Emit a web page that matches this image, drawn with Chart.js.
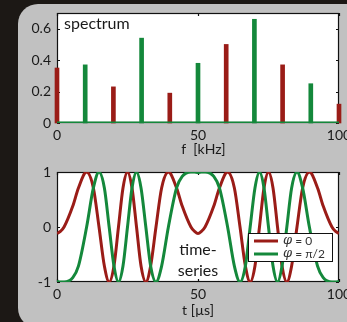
<!DOCTYPE html>
<html>
<head>
<meta charset="utf-8">
<script src="https://cdn.jsdelivr.net/npm/chart.js@4/dist/chart.umd.min.js"></script>
<style>
  html, body { margin: 0; padding: 0; }
  body { width: 347px; height: 322px; overflow: hidden; background: #1c1815; position: relative; }
  .panel { position: absolute; left: 18px; top: 4px; width: 360px; height: 324px; background: #c1c1c1; border-radius: 20px; }
  canvas { position: absolute; left: 0; }
  #spectrumChart { top: 0; }
  #timeChart { top: 160px; }
</style>
</head>
<body>
<div class="panel"></div>
<canvas id="spectrumChart" width="347" height="160"></canvas>
<canvas id="timeChart" width="347" height="162"></canvas>
<script>
// spectrum (kHz / amplitude)
const redFreq = [0, 20, 40, 60, 80, 100];
const redAmp = [0.35, 0.23, 0.19, 0.50, 0.37, 0.12];
const greenFreq = [10, 30, 50, 70, 90];
const greenAmp = [0.37, 0.54, 0.38, 0.66, 0.25];
const baseFreq = [0, 100];
const baseAmp = [0, 0];
const specXTicks = [0, 50, 100];
const specYTicks = [0, 0.2, 0.4, 0.6];
const specYLabels = ['0', '0.2', '0.4', '0.6'];

// time series (µs / value)
const timeUs = [0, 1.2, 2.5, 5.6, 7.6, 10.5, 12.9, 14.9, 16.8, 18.5, 20.2, 21.8, 23.4, 25, 26.6, 28.2, 29.8, 31.5, 33.2, 35.1, 37.1, 39.5, 42.4, 44.4, 47.5, 48.8, 50,
  51.2, 52.5, 55.6, 57.6, 60.5, 62.9, 64.9, 66.8, 68.5, 70.2, 71.8, 73.4, 75, 76.6, 78.2, 79.8, 81.5, 83.2, 85.1, 87.1, 89.5, 92.4, 94.4, 97.5, 98.8, 100];
const phase0 = [-0.12, -0.08, 0, 0.38, 0.71, 1, 0.71, 0, -0.71, -1, -0.71, 0, 0.71, 1, 0.71, 0, -0.71, -1, -0.71, 0, 0.71, 1, 0.71, 0.38, 0, -0.08, -0.12,
  -0.08, 0, 0.38, 0.71, 1, 0.71, 0, -0.71, -1, -0.71, 0, 0.71, 1, 0.71, 0, -0.71, -1, -0.71, 0, 0.71, 1, 0.71, 0.38, 0, -0.08, -0.12];
const phaseHalfPi = [-0.99, -1, -1, -0.92, -0.71, 0, 0.71, 1, 0.71, 0, -0.71, -1, -0.71, 0, 0.71, 1, 0.71, 0, -0.71, -1, -0.71, 0, 0.71, 0.92, 1, 1, 0.99,
  1, 1, 0.92, 0.71, 0, -0.71, -1, -0.71, 0, 0.71, 1, 0.71, 0, -0.71, -1, -0.71, 0, 0.71, 1, 0.71, 0, -0.71, -0.92, -1, -1, -0.99];
const timeXTicks = [0, 50, 100];
const timeYTicks = [-1, 0, 1];
const timeYLabels = ['-1', '0', '1'];

const RED = '#9a1c17';
const GREEN = '#14883b';
const FONT = 'Lato, "Open Sans", sans-serif';
const TXT = '#1a1a1a';

const pts = (xs, ys) => xs.map((x, i) => ({ x: x, y: ys[i] }));

// white plot area + frame with inward ticks
const framePlugin = {
    id: 'frame',
    beforeDatasetsDraw(chart) {
        const { ctx, chartArea: a, scales } = chart;
        ctx.save();
        ctx.fillStyle = '#fff';
        ctx.fillRect(a.left, a.top, a.right - a.left, a.bottom - a.top);
        ctx.strokeStyle = '#111';
        ctx.lineWidth = 1.2;
        ctx.strokeRect(a.left + 0.5, a.top + 0.5, a.right - a.left - 1, a.bottom - a.top - 1);
        ctx.beginPath();
        scales.y.ticks.forEach(t => {
            const y = Math.round(scales.y.getPixelForValue(t.value)) + 0.5;
            ctx.moveTo(a.left, y); ctx.lineTo(a.left + 3, y);
            ctx.moveTo(a.right, y); ctx.lineTo(a.right - 3, y);
        });
        scales.x.ticks.forEach(t => {
            const x = Math.round(scales.x.getPixelForValue(t.value)) + 0.5;
            ctx.moveTo(x, a.top); ctx.lineTo(x, a.top + 3);
            ctx.moveTo(x, a.bottom); ctx.lineTo(x, a.bottom - 3);
        });
        ctx.stroke();
        ctx.restore();
    }
};

// free text inside the plot
const noteText = (lines, xFrac, yPx, align) => ({
    id: 'note',
    afterDatasetsDraw(chart) {
        const { ctx, chartArea: a } = chart;
        ctx.save();
        ctx.font = '16px ' + FONT;
        ctx.fillStyle = TXT;
        ctx.textAlign = align;
        ctx.textBaseline = 'middle';
        const x = a.left + (a.right - a.left) * xFrac;
        lines.forEach((l, i) => ctx.fillText(l, x, yPx + i * 21));
        ctx.restore();
    }
});

// legend box in lower right of the time plot
const boxLegend = {
    id: 'boxLegend',
    afterDatasetsDraw(chart) {
        const { ctx, chartArea: a } = chart;
        const x0 = a.right - 91, y0 = a.top + 61, w = 85, h = 29;
        ctx.save();
        ctx.fillStyle = '#fff';
        ctx.fillRect(x0, y0, w, h);
        ctx.strokeStyle = '#111';
        ctx.lineWidth = 1;
        ctx.strokeRect(x0 + 0.5, y0 + 0.5, w - 1, h - 1);
        ctx.textBaseline = 'middle';
        chart.data.datasets.forEach((ds, i) => {
            const y = y0 + 8 + i * 13;
            ctx.strokeStyle = ds.borderColor;
            ctx.lineWidth = 3;
            ctx.beginPath();
            ctx.moveTo(x0 + 6, y); ctx.lineTo(x0 + 30, y);
            ctx.stroke();
            ctx.fillStyle = '#333';
            ctx.font = 'italic 13px "DejaVu Serif", serif';
            ctx.fillText(ds.label[0], x0 + 35, y);
            const pw = ctx.measureText(ds.label[0]).width;
            ctx.font = '12px ' + FONT;
            ctx.fillText(ds.label.slice(1), x0 + 35 + pw, y);
        });
        ctx.restore();
    }
};

const fixTicks = vals => scale => { scale.ticks = vals.map(v => ({ value: v })); };

function axes(xTicks, yTicks, yLabels, yMin, yMax, title, xHeight, titlePad) {
    return {
        x: {
            type: 'linear', min: 0, max: 100, offset: false,
            afterBuildTicks: fixTicks(xTicks),
            // let the "100" run off the edge like the original
            afterFit: s => { s.height = xHeight; s.paddingLeft = 0; s.paddingRight = 0; },
            grid: { display: false, drawTicks: false },
            border: { display: false },
            ticks: { color: TXT, padding: 4, maxRotation: 0, font: { family: FONT, size: 14 } },
            title: { display: true, text: title, color: TXT, padding: { top: 0, bottom: titlePad }, font: { family: FONT, size: 14 } }
        },
        y: {
            min: yMin, max: yMax,
            afterBuildTicks: fixTicks(yTicks),
            afterFit: s => { s.width = 57; s.paddingTop = 0; s.paddingBottom = 0; },
            grid: { display: false, drawTicks: false },
            border: { display: false },
            ticks: { color: TXT, padding: 6, font: { family: FONT, size: 14 }, callback: (v, i) => yLabels[i] }
        }
    };
}

const common = {
    responsive: false,
    animation: false,
    events: [],
    plugins: { legend: { display: false }, tooltip: { enabled: false } }
};

new Chart(document.getElementById('spectrumChart'), {
    type: 'bar',
    data: {
        datasets: [
            { type: 'line', data: pts(baseFreq, baseAmp), borderColor: GREEN, borderWidth: 3, pointRadius: 0, order: 0 },
            { label: 'φ = 0', data: pts(redFreq, redAmp), backgroundColor: RED, barThickness: 4, grouped: false, clip: false, order: 1 },
            { label: 'φ = π/2', data: pts(greenFreq, greenAmp), backgroundColor: GREEN, barThickness: 4, grouped: false, clip: false, order: 1 }
        ]
    },
    options: Object.assign({}, common, {
        layout: { padding: { top: 13, right: 8, left: 0, bottom: 0 } },
        scales: axes(specXTicks, specYTicks, specYLabels, 0, 0.7, '   f  [kHz]', 37, 2)
    }),
    plugins: [framePlugin, noteText(['spectrum'], 0.025, 24, 'left')]
});

new Chart(document.getElementById('timeChart'), {
    type: 'line',
    data: {
        datasets: [
            { label: 'φ = 0', data: pts(timeUs, phase0), borderColor: RED, borderWidth: 3, pointRadius: 0, cubicInterpolationMode: 'monotone', order: 1 },
            { label: 'φ = π/2', data: pts(timeUs, phaseHalfPi), borderColor: GREEN, borderWidth: 3, pointRadius: 0, cubicInterpolationMode: 'monotone', order: 0 }
        ]
    },
    options: Object.assign({}, common, {
        layout: { padding: { top: 12, right: 8, left: 0, bottom: 0 } },
        scales: axes(timeXTicks, timeYTicks, timeYLabels, -1, 1, 't [µs]', 40, 3)
    }),
    plugins: [framePlugin, noteText(['time-', 'series'], 0.5, 90, 'center'), boxLegend]
});
</script>
</body>
</html>
